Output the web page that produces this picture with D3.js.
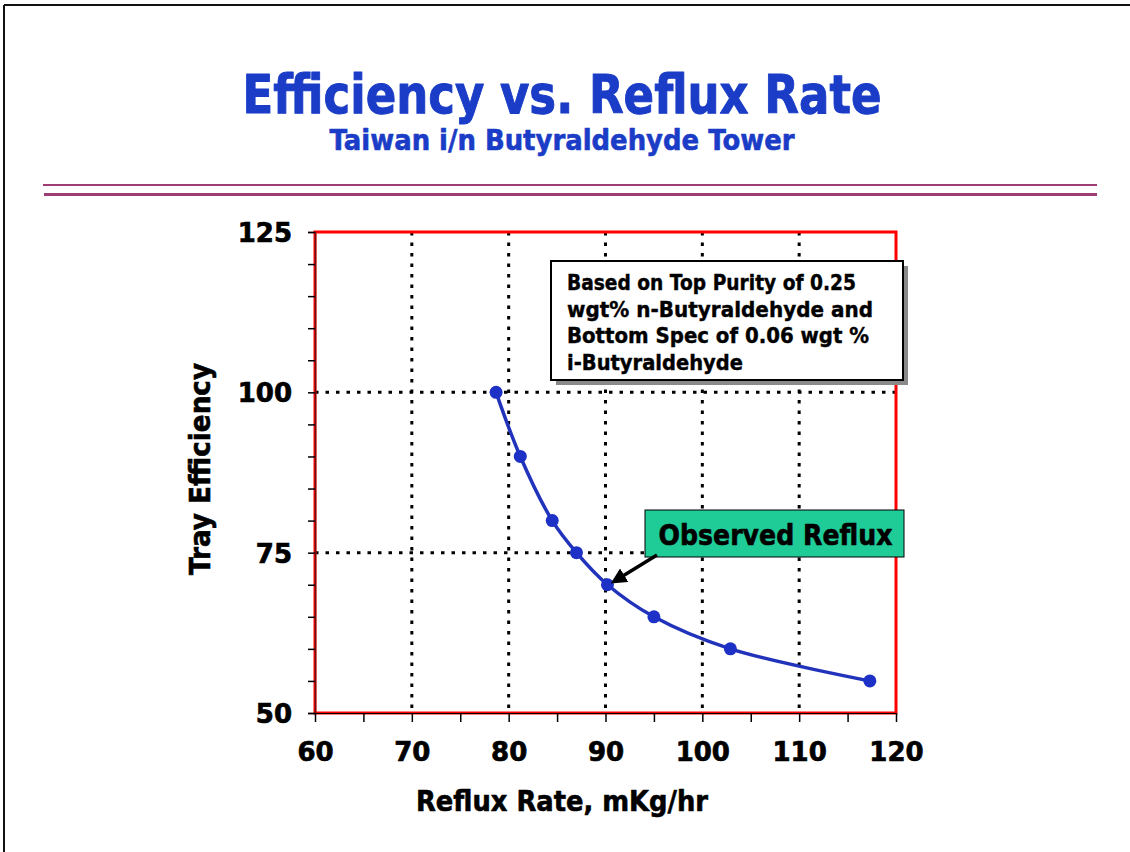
<!DOCTYPE html>
<html><head><meta charset="utf-8">
<script src="https://cdn.jsdelivr.net/npm/d3@7"></script>
<style>
html,body{margin:0;padding:0;background:#fff;}
svg{display:block;}
text{font-family:"DejaVu Sans","Verdana",sans-serif;font-weight:bold;}
</style></head>
<body><svg id="c" width="1130" height="852"></svg>
<script>
// ---- data ----
const refluxRate = [78.7, 81.2, 84.5, 87.0, 90.2, 95.0, 102.9, 117.3];
const efficiency = [100, 90, 80, 75, 70, 65, 60, 55];
const xMajorTicks = [60, 70, 80, 90, 100, 110, 120];
const yMajorTicks = [50, 75, 100, 125];
const xGridValues = [70, 80, 90, 100, 110];
const yGridValues = [75, 100];
const observedIndex = 4;
const titleText = "Efficiency vs. Reflux Rate";
const subtitleText = "Taiwan i/n Butyraldehyde Tower";
const xTitle = "Reflux Rate, mKg/hr";
const yTitle = "Tray Efficiency";
const noteLines = ["Based on Top Purity of 0.25", "wgt% n-Butyraldehyde and", "Bottom Spec of 0.06 wgt %", "i-Butyraldehyde"];
const observedLabel = "Observed Reflux";

const svg = d3.select("#c");
const blue = "#1a3cc6";

function fit(t, w){
  const L = t.node().getComputedTextLength();
  if (Math.abs(L - w) > 1) t.attr("textLength", w).attr("lengthAdjust", "spacingAndGlyphs");
  return t;
}
function heavy(t, c, w){ return t.attr("stroke", c).attr("stroke-width", w).attr("stroke-linejoin","round"); }

// outer slide border (top & left)
svg.append("line").attr("x1",4).attr("y1",5).attr("x2",1130).attr("y2",5).attr("stroke","#111").attr("stroke-width",2);
svg.append("line").attr("x1",4).attr("y1",5).attr("x2",4).attr("y2",852).attr("stroke","#111").attr("stroke-width",2);

// titles
heavy(fit(svg.append("text").attr("x",562).attr("y",113).attr("text-anchor","middle")
  .attr("font-size",53).attr("fill",blue).text(titleText), 639), blue, 1);
heavy(fit(svg.append("text").attr("x",562).attr("y",150).attr("text-anchor","middle")
  .attr("font-size",28).attr("fill",blue).text(subtitleText), 465), blue, 0.6);

// separator lines
svg.append("line").attr("x1",43).attr("x2",1097).attr("y1",185).attr("y2",185).attr("stroke","#9e3d75").attr("stroke-width",2);
svg.append("line").attr("x1",44).attr("x2",1097).attr("y1",194.5).attr("y2",194.5).attr("stroke","#9e3d75").attr("stroke-width",3);

// scales
const L = 315, R = 896, T = 232, B = 713;
const x = d3.scaleLinear().domain([60,120]).range([L,R]);
const y = d3.scaleLinear().domain([50,125]).range([B,T]);

// grid
const g = svg.append("g");
g.selectAll(".vg").data(xGridValues).join("line")
  .attr("x1",d=>x(d)).attr("x2",d=>x(d)).attr("y1",T).attr("y2",B)
  .attr("stroke","#000").attr("stroke-width",3).attr("stroke-dasharray","3.5,7");
g.selectAll(".hg").data(yGridValues).join("line")
  .attr("x1",L).attr("x2",R).attr("y1",d=>y(d)).attr("y2",d=>y(d))
  .attr("stroke","#000").attr("stroke-width",3).attr("stroke-dasharray","3.5,7");

// frame
svg.append("rect").attr("x",L).attr("y",T).attr("width",R-L).attr("height",B-T)
  .attr("fill","none").attr("stroke","#ff0000").attr("stroke-width",3);

// axes
const yAxis = d3.axisLeft(y).tickValues(d3.range(50,126,5)).tickSize(7).tickPadding(16)
  .tickFormat(d => yMajorTicks.includes(d) ? d : "");
const ya = svg.append("g").attr("transform",`translate(${L},0)`).call(yAxis);
ya.select(".domain").attr("stroke","#6a1010").attr("stroke-width",1.5);
ya.selectAll(".tick line").attr("stroke","#000").attr("stroke-width",1.5);
ya.selectAll(".tick text").attr("font-size",26).attr("fill","#000").attr("dy","0.36em")
  .attr("stroke","#000").attr("stroke-width",0.7)
  .style("font-family",'"DejaVu Sans",sans-serif').style("font-weight","bold");

const xAxis = d3.axisBottom(x).tickValues(d3.range(60,121,5)).tickSize(9).tickPadding(20)
  .tickFormat(d => xMajorTicks.includes(d) ? d : "");
const xa = svg.append("g").attr("transform",`translate(0,${B})`).call(xAxis);
xa.select(".domain").attr("stroke","#000").attr("stroke-width",1);
xa.selectAll(".tick line").attr("stroke","#000").attr("stroke-width",1.5);
xa.selectAll(".tick text").attr("font-size",26).attr("fill","#000").attr("y",29).attr("dy","0.72em")
  .attr("stroke","#000").attr("stroke-width",0.7)
  .style("font-family",'"DejaVu Sans",sans-serif').style("font-weight","bold");

// axis titles
heavy(fit(svg.append("text").attr("x",562).attr("y",811).attr("text-anchor","middle")
  .attr("font-size",28).attr("fill","#000").text(xTitle), 292), "#000", 0.6);
heavy(fit(svg.append("text").attr("transform","translate(210,469) rotate(-90)").attr("text-anchor","middle")
  .attr("font-size",28).attr("fill","#000").text(yTitle), 212), "#000", 0.6);

// data line & points
const pts = refluxRate.map((r,i)=>[r, efficiency[i]]);
const line = d3.line().x(d=>x(d[0])).y(d=>y(d[1])).curve(d3.curveCatmullRom.alpha(0.5));
svg.append("path").attr("d",line(pts)).attr("fill","none").attr("stroke","#2233bb").attr("stroke-width",3.5);
svg.selectAll(".pt").data(pts).join("circle")
  .attr("cx",d=>x(d[0])).attr("cy",d=>y(d[1])).attr("r",6.5).attr("fill","#1d31c6");

// note box
const nb = {x:551, y:261, w:352, h:119};
svg.append("rect").attr("x",nb.x+5).attr("y",nb.y+5).attr("width",nb.w).attr("height",nb.h).attr("fill","#8a8a8a");
svg.append("rect").attr("x",nb.x).attr("y",nb.y).attr("width",nb.w).attr("height",nb.h)
  .attr("fill","#fff").attr("stroke","#000").attr("stroke-width",2);
const noteWidths = [289, 306, 302, 176];
noteLines.forEach((s,i)=>{
  heavy(fit(svg.append("text").attr("x",567).attr("y",290 + i*26.5).attr("font-size",20.5).attr("fill","#000").text(s), noteWidths[i]), "#000", 0.4);
});

// observed reflux callout
const ob = {x:645, y:510, w:259, h:47};
svg.append("rect").attr("x",ob.x).attr("y",ob.y).attr("width",ob.w).attr("height",ob.h)
  .attr("fill","#1fcb97").attr("stroke","#000").attr("stroke-width",1);
heavy(fit(svg.append("text").attr("x",ob.x+ob.w/2+1).attr("y",545).attr("text-anchor","middle")
  .attr("font-size",28).attr("fill","#000").text(observedLabel), 234), "#000", 0.6);

// arrow
const defs = svg.append("defs");
defs.append("marker").attr("id","ah").attr("viewBox","0 0 10 10").attr("refX",8).attr("refY",5)
  .attr("markerWidth",4.5).attr("markerHeight",4.5).attr("orient","auto")
  .append("path").attr("d","M0,0 L10,5 L0,10 Z").attr("fill","#000");
const ox = x(refluxRate[observedIndex]), oy = y(efficiency[observedIndex]);
svg.append("line").attr("x1",ob.x+12).attr("y1",ob.y+ob.h-2).attr("x2",ox+6).attr("y2",oy-3)
  .attr("stroke","#000").attr("stroke-width",3.5).attr("marker-end","url(#ah)");
</script></body></html>
